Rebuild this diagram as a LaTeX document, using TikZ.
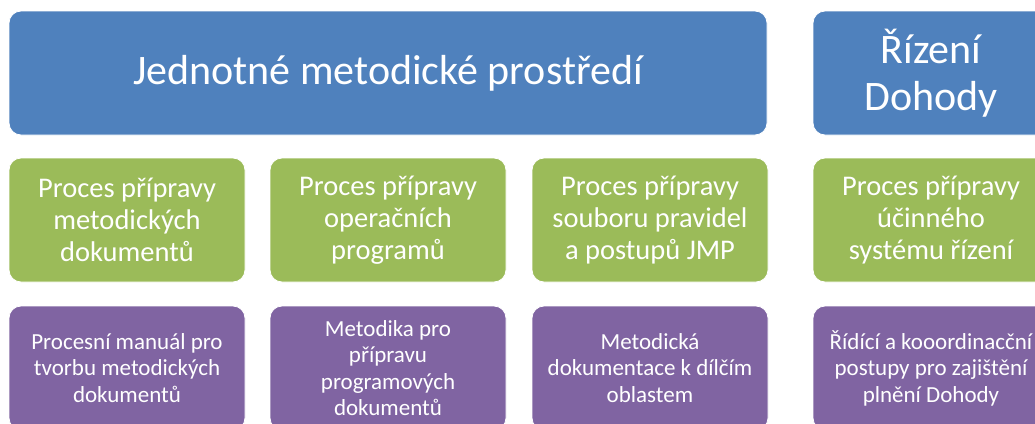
\documentclass[tikz,border=0pt]{standalone}
\usepackage{fontspec}
\setmainfont{Carlito}
\definecolor{B}{RGB}{79, 129, 189}
\definecolor{G}{RGB}{155, 187, 89}
\definecolor{P}{RGB}{128, 100, 162}

\begin{document}
\begin{tikzpicture}[x=1pt, y=-1pt,
  box/.style={rounded corners=12pt, draw=white, line width=0.8pt, text=white,
    align=center, inner sep=0pt, minimum width=236pt, minimum height=124pt},
  bluebox/.style={box, fill=B, font=\fontsize{42}{47}\selectfont},
  greenbox/.style={box, fill=G, font=\fontsize{28.5}{32}\selectfont},
  purplebox/.style={box, fill=P, font=\fontsize{23}{26.5}\selectfont}]
  \useasboundingbox (0,0) rectangle (1035,423);
  \clip (0,0) rectangle (1035,423);
  % top row
  \node[bluebox, minimum width=758pt] (jmp) at (388,73) {Jednotné metodické prostředí};
  \node[bluebox] (rizeni) at (931,73) {Řízení\\Dohody};
  % processes
  \node[greenbox] (proc1) at (127,220) {Proces přípravy\\metodických\\dokumentů};
  \node[greenbox] (proc2) at (388,220) {Proces přípravy\\operačních\\programů};
  \node[greenbox] (proc3) at (650,220) {Proces přípravy\\souboru pravidel\\a postupů JMP};
  \node[greenbox] (proc4) at (931,220) {Proces přípravy\\účinného\\systému řízení};
  % outputs
  \node[purplebox] (out1) at (127,368) {Procesní manuál pro\\tvorbu metodických\\dokumentů};
  \node[purplebox] (out2) at (388,368) {Metodika pro\\přípravu\\programových\\dokumentů};
  \node[purplebox] (out3) at (650,368) {Metodická\\dokumentace k dílčím\\oblastem};
  \node[purplebox] (out4) at (931,368) {Řídící a kooordinacční\\postupy pro zajištění\\plnění Dohody};
\end{tikzpicture}
\end{document}
